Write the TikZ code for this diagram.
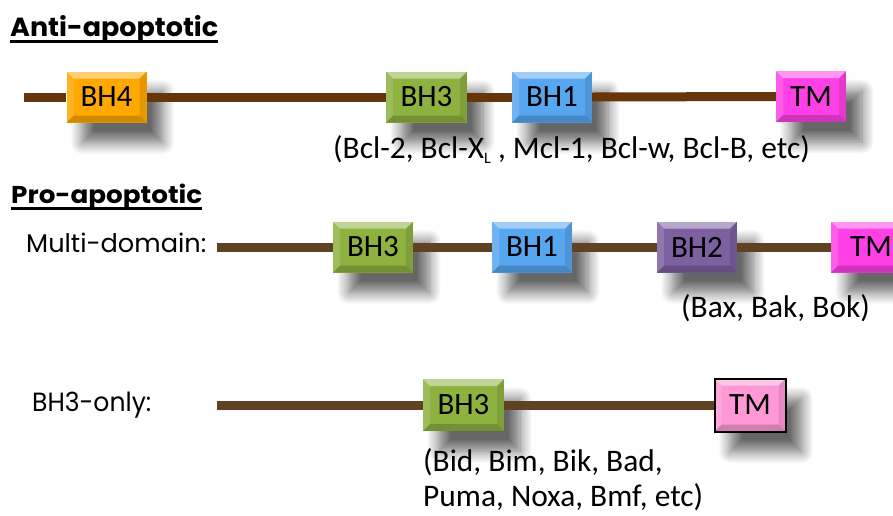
\documentclass[tikz,border=0pt]{standalone}
\usepackage{fontspec}
\setmainfont{Carlito}
\newfontfamily\headfont{Poppins}
\usetikzlibrary{shadows.blur}
\definecolor{lineA}{RGB}{102,54,10}
\definecolor{lineB}{RGB}{94,66,34}
\definecolor{cBHf}{RGB}{255,168,0}
\definecolor{cBHt}{RGB}{141,178,64}
\definecolor{cBHo}{RGB}{86,166,240}
\definecolor{cBHw}{RGB}{125,96,160}
\definecolor{cTM}{RGB}{255,64,230}
\definecolor{cTMp}{RGB}{255,153,214}
\newcommand{\bevelpaths}{%
  \fill[white,opacity=.45] (path picture bounding box.north west) -- (path picture bounding box.north east) -- ([shift={(-7pt,-7pt)}]path picture bounding box.north east) -- ([shift={(7pt,-7pt)}]path picture bounding box.north west) -- cycle;
  \fill[white,opacity=.15] (path picture bounding box.north west) -- (path picture bounding box.south west) -- ([shift={(7pt,7pt)}]path picture bounding box.south west) -- ([shift={(7pt,-7pt)}]path picture bounding box.north west) -- cycle;
  \fill[black,opacity=.18] (path picture bounding box.south west) -- (path picture bounding box.south east) -- ([shift={(-7pt,7pt)}]path picture bounding box.south east) -- ([shift={(7pt,7pt)}]path picture bounding box.south west) -- cycle;
  \fill[black,opacity=.1] (path picture bounding box.north east) -- (path picture bounding box.south east) -- ([shift={(-7pt,7pt)}]path picture bounding box.south east) -- ([shift={(-7pt,-7pt)}]path picture bounding box.north east) -- cycle;
}
\tikzset{
  dom/.style={minimum width=80pt, minimum height=51pt, inner sep=0pt, fill=#1,
    font=\fontsize{31}{34}\selectfont,
    blur shadow={shadow xshift=16pt, shadow yshift=-20pt, shadow blur radius=12pt, shadow blur steps=12, shadow opacity=60},
    path picture={\bevelpaths}},
  bbA/.style={draw=lineA, line width=9pt},
  bbB/.style={draw=lineB, line width=9pt},
  lbl/.style={anchor=base west, inner sep=0pt, font=\fontsize{31.4}{36}\selectfont},
  head/.style={anchor=base west, inner sep=0pt},
  uline/.style={draw=black, line width=2.5pt}
}
\begin{document}
\begin{tikzpicture}[x=1pt,y=-1pt]
\useasboundingbox (0,0) rectangle (893,515);
\clip (0,0) rectangle (893,515);
% headings
\node[head] (hA) at (10,36) {\resizebox{208pt}{21pt}{\headfont\bfseries Anti-apoptotic}};
\coordinate (uA1) at (10,41.5); \coordinate (uA2) at (218,41.5);
\draw[uline] (uA1) -- (uA2);
\node[head] (hP) at (11,203) {\resizebox{191pt}{19.5pt}{\headfont\bfseries Pro-apoptotic}};
\coordinate (uP1) at (11,208.5); \coordinate (uP2) at (202,208.5);
\draw[uline] (uP1) -- (uP2);
\node[head] (md) at (26,252) {\resizebox{180pt}{19.5pt}{\headfont Multi-domain:}};
\node[head] (bo) at (32,411) {\resizebox{119pt}{19.5pt}{\headfont BH3-only:}};
% row 1
\node[dom=cBHf] (a4) at (106.5,97) {BH4};
\node[dom=cBHt, minimum width=81pt] (a3) at (426.5,97) {BH3};
\node[dom=cBHo] (a1) at (552,97) {BH1};
\node[dom=cTM, minimum width=70pt] (atm) at (811,96.5) {TM};
\coordinate (s1) at (24,97);
\draw[bbA] (s1) -- (a4.west);
\draw[bbA] (a4.east) -- (a3.west);
\draw[bbA] (a3.east) -- (a1.west);
\draw[bbA] (a1.east) -- (atm.west);
\node[lbl] (l1) at (333,158) {(Bcl-2, Bcl-X\raisebox{-5pt}{\fontsize{16}{16}\selectfont L} , Mcl-1, Bcl-w, Bcl-B, etc)};
% row 2
\node[dom=cBHt] (b3) at (373,247) {BH3};
\node[dom=cBHo] (b1) at (532,247) {BH1};
\node[dom=cBHw] (b2) at (697,247) {BH2};
\node[dom=cTM] (btm) at (871,247) {TM};
\coordinate (s2) at (217,247);
\draw[bbB] (s2) -- (b3.west);
\draw[bbB] (b3.east) -- (b1.west);
\draw[bbB] (b1.east) -- (b2.west);
\draw[bbB] (b2.east) -- (btm.west);
\node[lbl] (l2) at (681,317) {(Bax, Bak, Bok)};
% row 3
\node[dom=cBHt, minimum width=81pt, minimum height=52pt] (c3) at (463.5,405) {BH3};
\node[dom=cTMp, minimum width=71pt, minimum height=53pt, draw=black, line width=2pt] (ctm) at (750,405) {TM};
\coordinate (s3) at (217,405);
\draw[bbB] (s3) -- (c3.west);
\draw[bbB] (c3.east) -- (ctm.west);
\node[lbl] (l3) at (423,471) {(Bid, Bim, Bik, Bad,};
\node[lbl] (l4) at (423,506) {Puma, Noxa, Bmf, etc)};
\end{tikzpicture}
\end{document}
